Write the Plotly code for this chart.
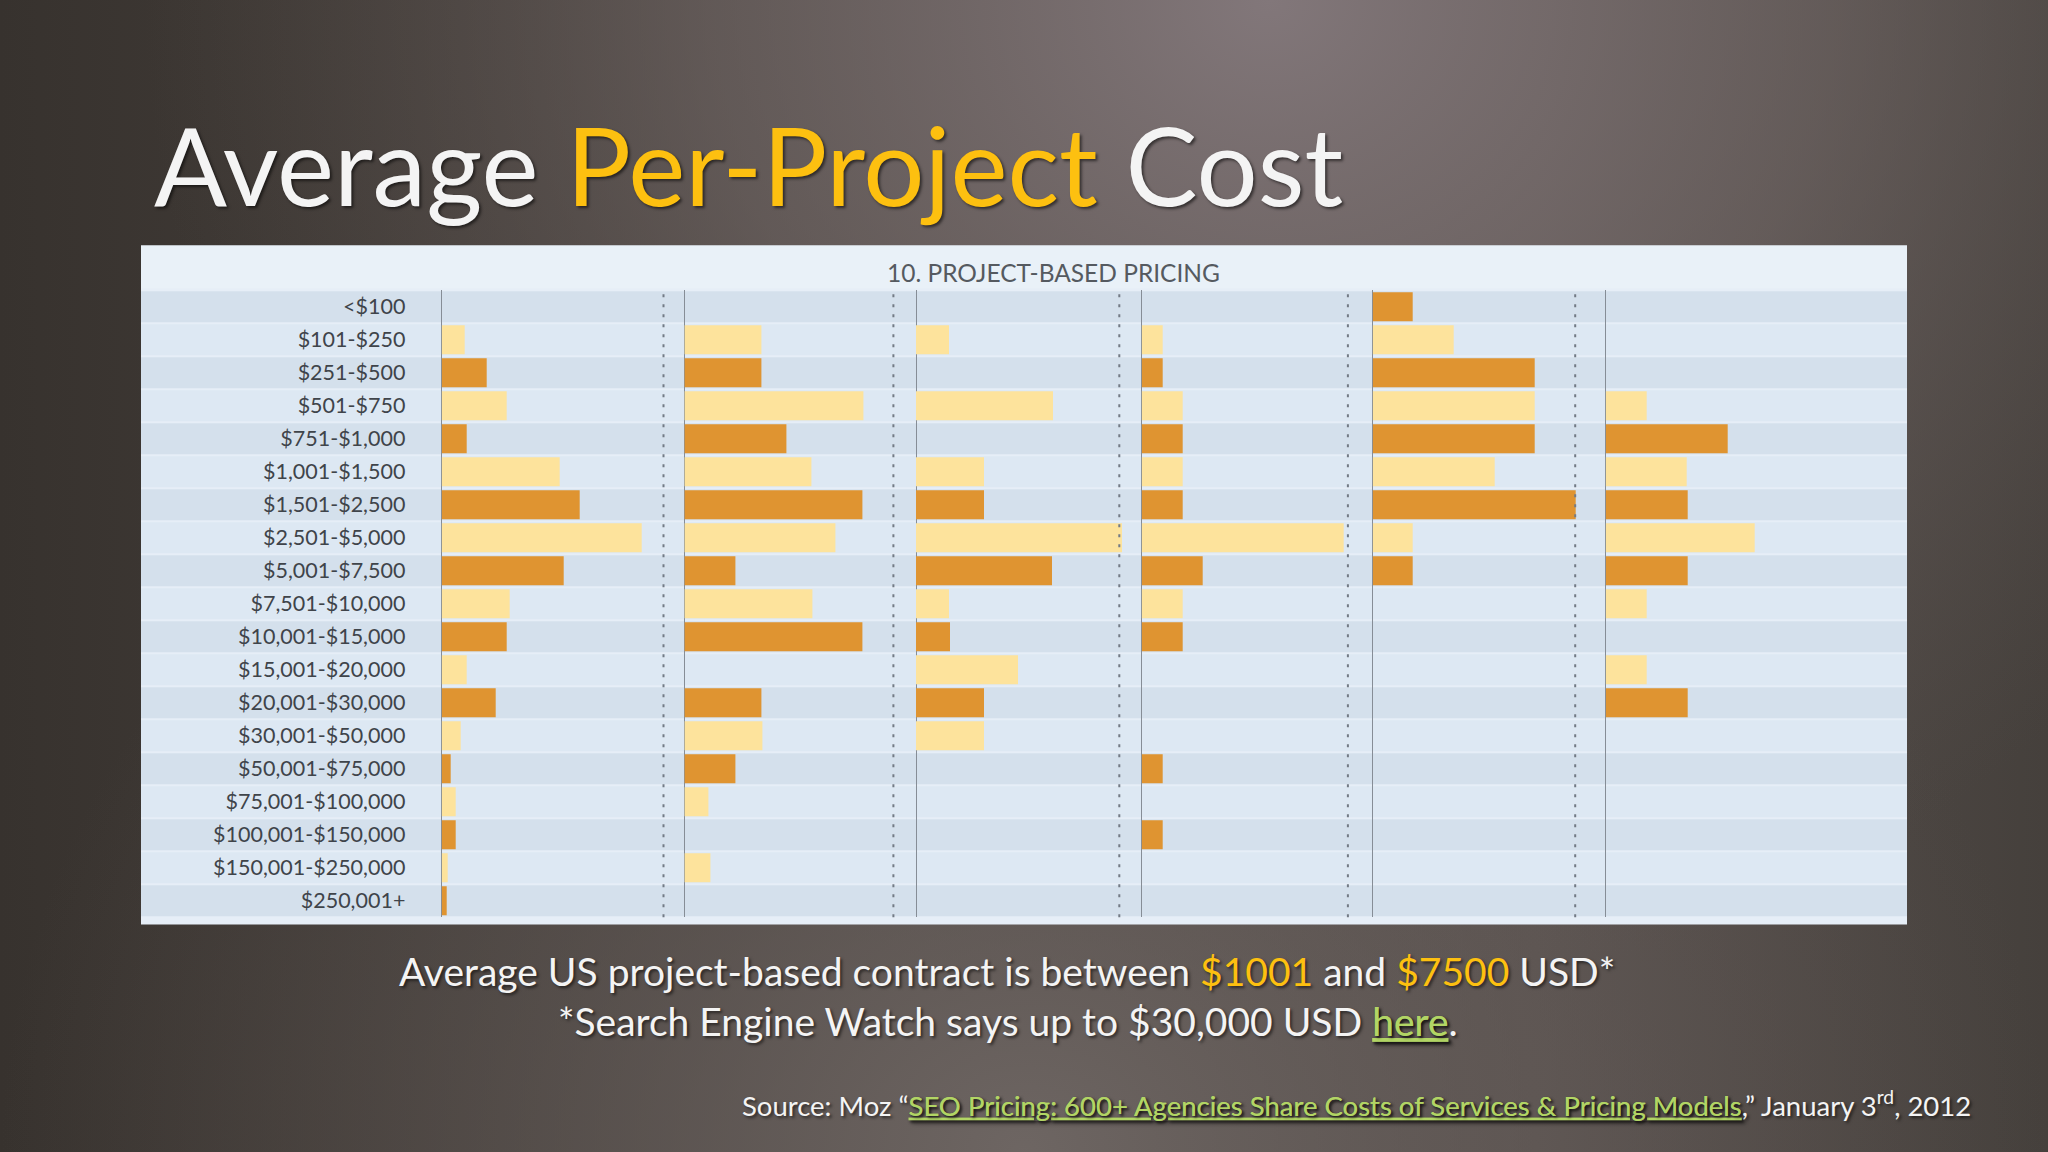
import base64
import plotly.graph_objects as go

W, H = 2048, 1152

# ---------------- data ----------------
categories = ["<$100", "$101-$250", "$251-$500", "$501-$750", "$751-$1,000",
              "$1,001-$1,500", "$1,501-$2,500", "$2,501-$5,000", "$5,001-$7,500",
              "$7,501-$10,000", "$10,001-$15,000", "$15,001-$20,000",
              "$20,001-$30,000", "$30,001-$50,000", "$50,001-$75,000",
              "$75,001-$100,000", "$100,001-$150,000", "$150,001-$250,000",
              "$250,001+"]

panel1 = [0, 2.3, 4.5, 6.5, 2.5, 11.8, 13.8, 20.0, 12.2, 6.8, 6.5, 2.5, 5.4,
          1.9, 0.9, 1.4, 1.4, 0.6, 0.5]
panel2 = [0, 7.7, 7.7, 17.9, 10.2, 12.7, 17.8, 15.1, 5.1, 12.8, 17.8, 0, 7.7,
          7.8, 5.1, 2.4, 0, 2.6, 0]
panel3 = [0, 3.3, 0, 13.7, 0, 6.8, 6.8, 20.6, 13.6, 3.3, 3.4, 10.2, 6.8,
          6.8, 0, 0, 0, 0, 0]
panel4 = [0, 2.1, 2.1, 4.1, 4.1, 4.1, 4.1, 20.2, 6.1, 4.1, 4.1, 0, 0,
          0, 2.1, 0, 2.1, 0, 0]
panel5 = [4.0, 8.1, 16.2, 16.2, 16.2, 12.2, 20.3, 4.0, 4.0, 0, 0, 0, 0,
          0, 0, 0, 0, 0, 0]
panel6 = [0, 0, 0, 4.1, 12.2, 8.1, 8.2, 14.9, 8.2, 4.1, 0, 4.1, 8.2,
          0, 0, 0, 0, 0, 0]
panels = [panel1, panel2, panel3, panel4, panel5, panel6]

chart_title = "10. PROJECT-BASED PRICING"

# ---------------- styling / layout helpers ----------------
def px(x):
    return x / W

def py(y):
    return 1 - y / H

LIGHT = "#FDE39C"
DARK = "#DF9431"
bar_colors = [DARK if i % 2 == 0 else LIGHT for i in range(len(categories))]

baselines = [441.7, 684.4, 916.0, 1141.7, 1372.7, 1605.7]   # pixel x of each panel's zero
separators = [663.5, 893.4, 1119.3, 1347.9, 1575.2]
UNIT_PX = 10.0
XMAX = 23.0
row_top, row_bot = 290.2, 917.2
panel_left, panel_right, panel_top, panel_bot = 141, 1907, 245.6, 924.6

# background gradient as inline svg
svg = f"""<svg xmlns='http://www.w3.org/2000/svg' width='{W}' height='{H}' viewBox='0 0 {W} {H}' preserveAspectRatio='none'>
<defs>
<linearGradient id='lin' x1='0' y1='0' x2='1' y2='0'>
<stop offset='0' stop-color='#37322e'/>
<stop offset='0.45' stop-color='#4f4844'/>
<stop offset='0.75' stop-color='#5a524f'/>
<stop offset='1' stop-color='#45403c'/>
</linearGradient>
<radialGradient id='top' cx='0.62' cy='0.0' r='0.55' gradientTransform='translate(0.62 0) scale(1 1.6) translate(-0.62 0)'>
<stop offset='0' stop-color='#82777a' stop-opacity='1'/>
<stop offset='0.5' stop-color='#716766' stop-opacity='0.6'/>
<stop offset='1' stop-color='#5a524f' stop-opacity='0'/>
</radialGradient>
<radialGradient id='bot' cx='0.5' cy='1.0' r='0.5' gradientTransform='translate(0.5 1) scale(1 1.5) translate(-0.5 -1)'>
<stop offset='0' stop-color='#6f6764' stop-opacity='0.95'/>
<stop offset='1' stop-color='#5a524f' stop-opacity='0'/>
</radialGradient>
</defs>
<rect width='{W}' height='{H}' fill='url(#lin)'/>
<rect width='{W}' height='{H}' fill='url(#top)'/>
<rect width='{W}' height='{H}' fill='url(#bot)'/>
</svg>"""
bg_uri = "data:image/svg+xml;base64," + base64.b64encode(svg.encode()).decode()

fig = go.Figure()

for k, vals in enumerate(panels):
    xa = "x" if k == 0 else f"x{k+1}"
    fig.add_trace(go.Bar(
        y=categories, x=vals, orientation="h",
        xaxis=xa, yaxis="y",
        marker=dict(color=bar_colors, line=dict(width=0)),
        hoverinfo="x+y", showlegend=False,
    ))

layout = dict(
    width=W, height=H,
    margin=dict(l=0, r=0, t=0, b=0),
    paper_bgcolor="#4a433f",
    plot_bgcolor="rgba(0,0,0,0)",
    bargap=0.12,
    showlegend=False,
    font=dict(family="Lato, 'Open Sans', sans-serif"),
    yaxis=dict(
        domain=[py(row_bot), py(row_top)],
        anchor="x",
        range=[len(categories) - 0.5, -0.5],
        type="category",
        showgrid=False, zeroline=False, showline=False,
        ticks="outside", ticklen=31, tickcolor="rgba(0,0,0,0)",
        tickfont=dict(family="Lato", size=21.5, color="#3f444a"),
        fixedrange=True,
    ),
    images=[dict(source=bg_uri, xref="paper", yref="paper", x=0, y=1,
                 sizex=1, sizey=1, sizing="stretch", layer="below",
                 xanchor="left", yanchor="top")],
)
for k, b in enumerate(baselines):
    name = "xaxis" if k == 0 else f"xaxis{k+1}"
    layout[name] = dict(
        domain=[px(b), px(b + XMAX * UNIT_PX)],
        anchor="y",
        range=[0, XMAX],
        showgrid=False, showticklabels=False, ticks="",
        zeroline=True, zerolinecolor="#868d96", zerolinewidth=1.4,
        showline=False, fixedrange=True,
    )
fig.update_layout(**layout)

# chart panel background, header strip and row stripes
shapes = [
    dict(type="rect", xref="paper", yref="paper",
         x0=px(panel_left), x1=px(panel_right), y0=py(panel_bot), y1=py(panel_top),
         fillcolor="#e6eef7", line=dict(width=0), layer="below"),
    dict(type="rect", xref="paper", yref="paper",
         x0=px(panel_left), x1=px(panel_right), y0=py(row_top - 2), y1=py(panel_top),
         fillcolor="#e9f1f8", line=dict(width=0), layer="below"),
]
for i in range(len(categories)):
    shapes.append(dict(
        type="rect", xref="paper", yref="y",
        x0=px(panel_left), x1=px(panel_right), y0=i - 0.47, y1=i + 0.47,
        fillcolor="#d4e0ec" if i % 2 == 0 else "#dde8f3",
        line=dict(width=0), layer="below"))
for s in separators:
    shapes.append(dict(
        type="line", xref="paper", yref="paper",
        x0=px(s), x1=px(s), y0=py(row_bot), y1=py(row_top),
        line=dict(color="#737b85", width=2, dash="3px,7px"), layer="above"))
fig.update_layout(shapes=shapes)

def center_y(baseline, fs):
    return py(baseline - 0.39 * fs)

GOLD = "#FDC010"
GREEN = "#B2D565"
WHITE = "#F4F4F4"
shadow = "2px 2px 3px rgba(0,0,0,0.55)"

annotations = [
    dict(text=f"Average <span style='color:{GOLD}'>Per-Project</span> Cost",
         x=px(152), y=center_y(206, 108), xref="paper", yref="paper",
         xanchor="left", yanchor="middle", showarrow=False,
         font=dict(family="Lato", size=108, color=WHITE, shadow=shadow)),
    dict(text=chart_title, x=px(1053), y=py(272), xref="paper", yref="paper",
         xanchor="center", yanchor="middle", showarrow=False,
         font=dict(family="Lato", size=24.5, color="#555a60")),
    dict(text=("Average US project-based contract is between "
               f"<span style='color:{GOLD}'>$1001</span> and "
               f"<span style='color:{GOLD}'>$7500</span> USD*"),
         x=px(1007), y=center_y(986, 39), xref="paper", yref="paper",
         xanchor="center", yanchor="middle", showarrow=False,
         font=dict(family="Lato", size=39, color=WHITE, shadow=shadow)),
    dict(text=("*Search Engine Watch says up to $30,000 USD "
               f"<span style='color:{GREEN};text-decoration:underline'>here</span>."),
         x=px(1008), y=center_y(1036, 39), xref="paper", yref="paper",
         xanchor="center", yanchor="middle", showarrow=False,
         font=dict(family="Lato", size=39, color=WHITE, shadow=shadow)),
    dict(text=("Source: Moz \u201c"
               f"<span style='color:{GREEN};text-decoration:underline'>SEO Pricing: 600+ Agencies Share Costs of Services &amp; Pricing Models</span>"
               ",\u201d January 3<sup>rd</sup>, 2012"),
         x=px(1973), y=center_y(1114, 27.5), xref="paper", yref="paper",
         xanchor="right", yanchor="middle", showarrow=False,
         font=dict(family="Lato", size=27.5, color=WHITE, shadow=shadow)),
]
fig.update_layout(annotations=annotations)

fig.write_html(
    "out.html",
    config={"displayModeBar": False},
    post_script="document.body.style.margin='0';document.body.style.padding='0';"
                "document.body.style.overflow='hidden';"
                "document.documentElement.style.background='#4a433f';",
)
